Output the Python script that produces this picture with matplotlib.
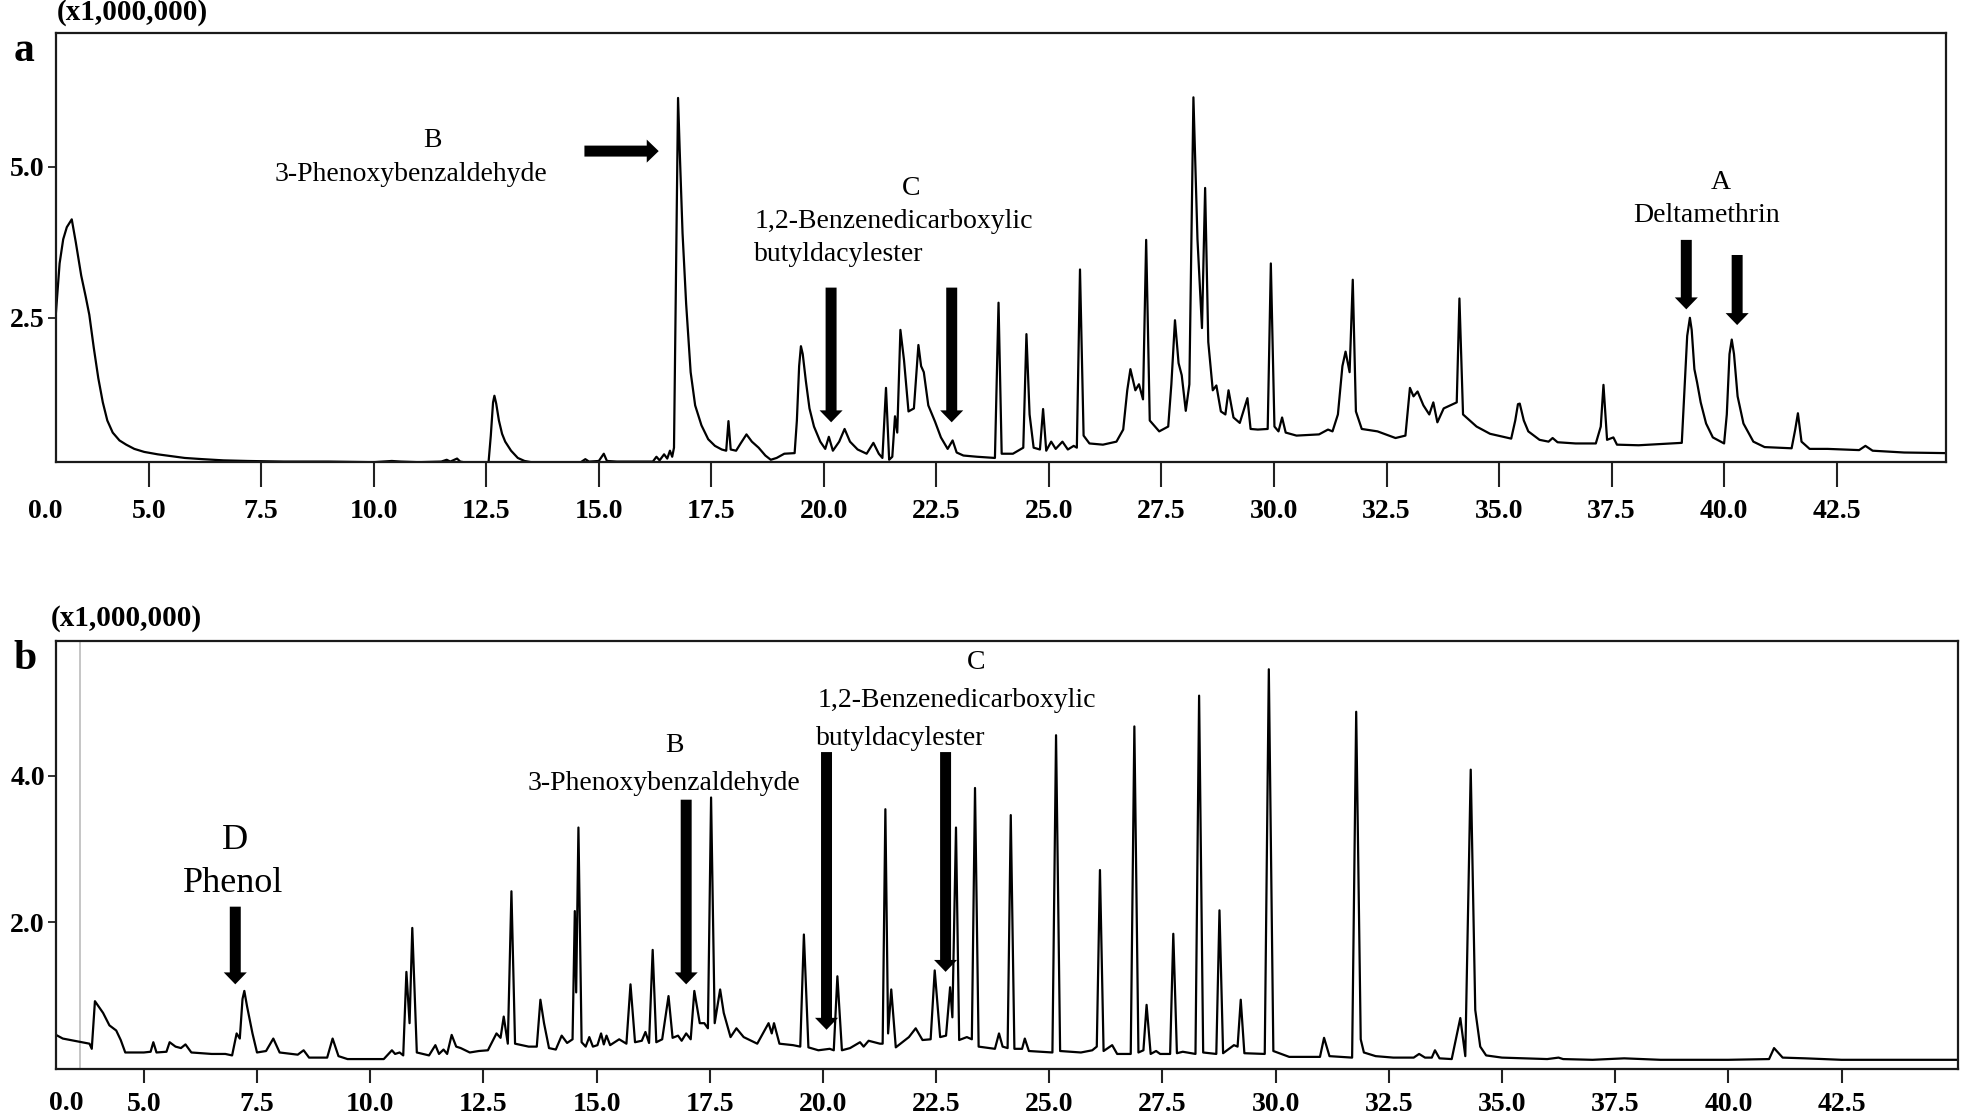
import matplotlib
matplotlib.use('Agg')
import numpy as np
import matplotlib.pyplot as plt

plt.rcParams['font.family'] = ['Liberation Serif', 'DejaVu Serif']

# retention time (min), intensity (x1,000,000)
trace_a = [
    (2.94, 2.60), (3.02, 3.40), (3.10, 3.80), (3.18, 4.00), (3.29, 4.13), (3.38, 3.75),
    (3.50, 3.20), (3.60, 2.85), (3.68, 2.55), (3.78, 2.00), (3.88, 1.50), (3.98, 1.10),
    (4.08, 0.80), (4.20, 0.60), (4.35, 0.47), (4.50, 0.40), (4.68, 0.33), (4.90, 0.28),
    (5.20, 0.24), (5.50, 0.21), (5.80, 0.18), (6.20, 0.16), (6.66, 0.14), (7.20, 0.13),
    (8.00, 0.12), (9.00, 0.12), (10.00, 0.11), (10.40, 0.13), (10.60, 0.12), (11.00, 0.11),
    (11.50, 0.12), (11.62, 0.15), (11.70, 0.12), (11.85, 0.17), (11.92, 0.12), (12.00, 0.11),
    (12.55, 0.11), (12.60, 0.55), (12.65, 1.10), (12.68, 1.21), (12.72, 1.08), (12.78, 0.80),
    (12.85, 0.58), (12.92, 0.45), (13.05, 0.30), (13.20, 0.18), (13.35, 0.13), (13.50, 0.11),
    (14.60, 0.11), (14.70, 0.16), (14.78, 0.12), (15.00, 0.13), (15.11, 0.25), (15.18, 0.13),
    (15.40, 0.12), (15.80, 0.12), (16.20, 0.12), (16.28, 0.20), (16.35, 0.14), (16.45, 0.24),
    (16.52, 0.17), (16.58, 0.30), (16.63, 0.20), (16.67, 0.35), (16.72, 3.60), (16.76, 6.14),
    (16.80, 5.20), (16.86, 3.90), (16.94, 2.73), (17.04, 1.60), (17.14, 1.05), (17.28, 0.72),
    (17.43, 0.49), (17.58, 0.38), (17.73, 0.32), (17.83, 0.30), (17.88, 0.79), (17.93, 0.32),
    (18.05, 0.30), (18.15, 0.42), (18.28, 0.57), (18.40, 0.45), (18.55, 0.35), (18.70, 0.22),
    (18.82, 0.15), (18.95, 0.18), (19.12, 0.25), (19.35, 0.26), (19.40, 0.80), (19.45, 1.70),
    (19.49, 2.03), (19.53, 1.90), (19.60, 1.45), (19.68, 1.00), (19.78, 0.70), (19.92, 0.45),
    (20.03, 0.33), (20.11, 0.53), (20.20, 0.30), (20.34, 0.45), (20.46, 0.66), (20.58, 0.45),
    (20.75, 0.32), (20.95, 0.25), (21.10, 0.43), (21.22, 0.25), (21.30, 0.18), (21.38, 1.34),
    (21.45, 0.15), (21.52, 0.20), (21.58, 0.87), (21.63, 0.60), (21.70, 2.30), (21.78, 1.80),
    (21.88, 0.95), (22.00, 1.00), (22.10, 2.05), (22.16, 1.70), (22.22, 1.60), (22.32, 1.05),
    (22.47, 0.78), (22.60, 0.52), (22.75, 0.33), (22.86, 0.47), (22.95, 0.27), (23.10, 0.22),
    (23.40, 0.20), (23.80, 0.18), (23.88, 2.75), (23.95, 0.25), (24.20, 0.25), (24.43, 0.35),
    (24.50, 2.23), (24.57, 0.90), (24.66, 0.35), (24.80, 0.32), (24.87, 0.99), (24.94, 0.30),
    (25.05, 0.45), (25.15, 0.33), (25.30, 0.45), (25.42, 0.32), (25.55, 0.38), (25.62, 0.35),
    (25.69, 3.30), (25.77, 0.55), (25.90, 0.42), (26.20, 0.40), (26.50, 0.45), (26.65, 0.65),
    (26.74, 1.30), (26.81, 1.65), (26.92, 1.30), (27.00, 1.40), (27.09, 1.15), (27.16, 3.79),
    (27.24, 0.80), (27.45, 0.62), (27.65, 0.70), (27.72, 1.40), (27.80, 2.46), (27.88, 1.75),
    (27.95, 1.55), (28.04, 0.96), (28.12, 1.40), (28.21, 6.15), (28.30, 3.80), (28.40, 2.33),
    (28.47, 4.65), (28.54, 2.10), (28.64, 1.30), (28.72, 1.38), (28.82, 0.95), (28.92, 0.90),
    (28.99, 1.30), (29.10, 0.85), (29.24, 0.76), (29.41, 1.17), (29.48, 0.66), (29.64, 0.65),
    (29.86, 0.66), (29.93, 3.40), (30.01, 0.70), (30.10, 0.62), (30.18, 0.85), (30.26, 0.60),
    (30.50, 0.55), (31.00, 0.57), (31.20, 0.65), (31.30, 0.62), (31.42, 0.90), (31.52, 1.70),
    (31.59, 1.94), (31.68, 1.60), (31.75, 3.13), (31.82, 0.95), (31.95, 0.66), (32.30, 0.62),
    (32.70, 0.51), (32.92, 0.55), (33.02, 1.34), (33.10, 1.20), (33.19, 1.28), (33.32, 1.05),
    (33.45, 0.90), (33.54, 1.10), (33.63, 0.77), (33.77, 1.00), (34.06, 1.10), (34.12, 2.82),
    (34.20, 0.90), (34.50, 0.70), (34.80, 0.58), (35.27, 0.50), (35.36, 0.80), (35.42, 1.07),
    (35.46, 1.08), (35.55, 0.80), (35.65, 0.62), (35.90, 0.48), (36.10, 0.45), (36.19, 0.51),
    (36.30, 0.44), (36.70, 0.42), (37.15, 0.42), (37.26, 0.70), (37.32, 1.39), (37.40, 0.48),
    (37.54, 0.52), (37.62, 0.40), (38.10, 0.39), (39.06, 0.43), (39.12, 1.30), (39.18, 2.20),
    (39.24, 2.50), (39.28, 2.30), (39.34, 1.65), (39.40, 1.43), (39.48, 1.10), (39.60, 0.75),
    (39.75, 0.52), (40.00, 0.42), (40.06, 0.90), (40.12, 1.90), (40.17, 2.14), (40.22, 1.90),
    (40.30, 1.20), (40.43, 0.75), (40.65, 0.45), (40.90, 0.36), (41.50, 0.34), (41.58, 0.65),
    (41.64, 0.92), (41.72, 0.45), (41.90, 0.33), (42.30, 0.33), (43.00, 0.31), (43.14, 0.38),
    (43.30, 0.30), (44.00, 0.27), (44.94, 0.26),
]

# retention time (min), intensity (x1,000,000)
trace_b = [
    (3.06, 0.46), (3.21, 0.41), (3.80, 0.34), (3.85, 0.27), (3.92, 0.92), (4.10, 0.76),
    (4.24, 0.59), (4.39, 0.52), (4.49, 0.39), (4.59, 0.22), (5.00, 0.22), (5.15, 0.23),
    (5.21, 0.36), (5.28, 0.22), (5.50, 0.23), (5.57, 0.36), (5.70, 0.30), (5.82, 0.28),
    (5.92, 0.33), (6.05, 0.22), (6.50, 0.20), (6.80, 0.20), (6.95, 0.18), (7.05, 0.48),
    (7.12, 0.41), (7.18, 0.95), (7.22, 1.06), (7.28, 0.85), (7.40, 0.48), (7.50, 0.22),
    (7.70, 0.24), (7.86, 0.41), (8.00, 0.22), (8.40, 0.19), (8.53, 0.25), (8.65, 0.15),
    (9.05, 0.15), (9.17, 0.41), (9.30, 0.17), (9.50, 0.13), (10.30, 0.13), (10.48, 0.25),
    (10.55, 0.20), (10.65, 0.22), (10.73, 0.18), (10.80, 1.32), (10.87, 0.62), (10.93, 1.92),
    (11.03, 0.22), (11.30, 0.18), (11.44, 0.32), (11.52, 0.20), (11.62, 0.26), (11.70, 0.20),
    (11.80, 0.46), (11.90, 0.30), (12.00, 0.28), (12.20, 0.22), (12.40, 0.24), (12.60, 0.25),
    (12.79, 0.48), (12.88, 0.42), (12.95, 0.71), (13.04, 0.34), (13.12, 2.42), (13.20, 0.34),
    (13.50, 0.30), (13.68, 0.30), (13.76, 0.94), (13.84, 0.62), (13.95, 0.28), (14.10, 0.26),
    (14.23, 0.45), (14.35, 0.35), (14.47, 0.40), (14.52, 2.15), (14.55, 1.04), (14.60, 3.29),
    (14.67, 0.36), (14.76, 0.30), (14.84, 0.43), (14.92, 0.30), (15.02, 0.32), (15.10, 0.48),
    (15.16, 0.33), (15.22, 0.45), (15.30, 0.32), (15.50, 0.40), (15.66, 0.34), (15.75, 1.15),
    (15.85, 0.36), (16.00, 0.38), (16.08, 0.50), (16.16, 0.35), (16.24, 1.62), (16.32, 0.36),
    (16.45, 0.40), (16.59, 0.99), (16.68, 0.42), (16.80, 0.45), (16.88, 0.38), (16.98, 0.48),
    (17.08, 0.40), (17.16, 1.06), (17.28, 0.62), (17.38, 0.62), (17.46, 0.55), (17.53, 3.70),
    (17.61, 0.62), (17.73, 1.08), (17.81, 0.76), (17.96, 0.43), (18.09, 0.55), (18.25, 0.43),
    (18.55, 0.34), (18.80, 0.62), (18.87, 0.48), (18.92, 0.62), (19.04, 0.34), (19.34, 0.32),
    (19.50, 0.30), (19.58, 1.83), (19.68, 0.29), (19.90, 0.25), (20.15, 0.27), (20.24, 0.25),
    (20.32, 1.26), (20.42, 0.25), (20.60, 0.28), (20.82, 0.36), (20.90, 0.30), (21.01, 0.38),
    (21.26, 0.34), (21.32, 0.34), (21.38, 3.54), (21.44, 0.48), (21.51, 1.08), (21.61, 0.29),
    (21.90, 0.43), (22.05, 0.55), (22.20, 0.39), (22.38, 0.40), (22.47, 1.34), (22.59, 0.43),
    (22.72, 0.45), (22.81, 1.11), (22.86, 0.70), (22.94, 3.29), (23.01, 0.39), (23.18, 0.43),
    (23.29, 0.40), (23.36, 3.83), (23.44, 0.30), (23.80, 0.27), (23.89, 0.48), (23.97, 0.30),
    (24.08, 0.28), (24.15, 3.46), (24.23, 0.27), (24.40, 0.27), (24.46, 0.41), (24.55, 0.24),
    (25.07, 0.22), (25.15, 4.55), (25.24, 0.24), (25.70, 0.22), (25.95, 0.25), (26.05, 0.30),
    (26.12, 2.71), (26.20, 0.24), (26.39, 0.32), (26.50, 0.20), (26.80, 0.20), (26.88, 4.67),
    (26.97, 0.22), (27.08, 0.25), (27.15, 0.87), (27.24, 0.20), (27.36, 0.24), (27.45, 0.20),
    (27.67, 0.20), (27.74, 1.84), (27.82, 0.21), (27.95, 0.23), (28.23, 0.20), (28.31, 5.09),
    (28.40, 0.22), (28.69, 0.20), (28.76, 2.16), (28.84, 0.21), (29.08, 0.32), (29.16, 0.30),
    (29.23, 0.94), (29.31, 0.21), (29.76, 0.20), (29.85, 5.45), (29.95, 0.24), (30.30, 0.16),
    (30.80, 0.16), (30.98, 0.16), (31.07, 0.42), (31.19, 0.17), (31.69, 0.15), (31.78, 4.87),
    (31.88, 0.40), (31.95, 0.22), (32.21, 0.17), (32.60, 0.15), (33.05, 0.15), (33.17, 0.20),
    (33.30, 0.15), (33.45, 0.15), (33.52, 0.25), (33.62, 0.14), (33.89, 0.13), (34.08, 0.69),
    (34.19, 0.17), (34.31, 4.08), (34.41, 0.80), (34.52, 0.30), (34.65, 0.18), (35.00, 0.15),
    (36.00, 0.13), (36.25, 0.15), (36.35, 0.13), (37.00, 0.12), (37.70, 0.14), (38.50, 0.12),
    (40.00, 0.12), (40.90, 0.13), (41.01, 0.28), (41.20, 0.15), (41.70, 0.14), (42.50, 0.12),
    (45.08, 0.12),
]

xticks = np.arange(5.0, 43.0, 2.5)
yticks_a = [2.5, 5.0]
yticks_b = [2.0, 4.0]

# (text, x, y, size, ha)
labels_a = [
    ('B', 11.30, 5.33, 20, 'center'),
    ('3-Phenoxybenzaldehyde', 10.83, 4.77, 20, 'center'),
    ('C', 21.94, 4.54, 20, 'center'),
    ('1,2-Benzenedicarboxylic', 18.45, 3.99, 20, 'left'),
    ('butyldacylester', 18.45, 3.44, 20, 'left'),
    ('A', 39.93, 4.64, 20, 'center'),
    ('Deltamethrin', 39.60, 4.09, 20, 'center'),
]
labels_b = [
    ('D', 7.02, 3.00, 26, 'center'),
    ('Phenol', 6.97, 2.41, 26, 'center'),
    ('B', 16.73, 4.32, 20, 'center'),
    ('3-Phenoxybenzaldehyde', 16.49, 3.80, 20, 'center'),
    ('C', 23.38, 5.45, 20, 'center'),
    ('1,2-Benzenedicarboxylic', 19.88, 4.93, 20, 'left'),
    ('butyldacylester', 19.85, 4.42, 20, 'left'),
]

# (tail x, tail y, tip x, tip y)
arrows_a = [
    (14.68, 5.26, 16.33, 5.26),
    (20.16, 3.00, 20.16, 0.77),
    (22.84, 3.00, 22.84, 0.77),
    (39.16, 3.79, 39.16, 2.64),
    (40.29, 3.54, 40.29, 2.38),
]
arrows_b = [
    (7.02, 2.21, 7.02, 1.15),
    (16.98, 3.67, 16.98, 1.15),
    (20.08, 4.32, 20.08, 0.53),
    (22.71, 4.32, 22.71, 1.32),
]

W, H = 1961, 1115


def px(x, y):
    return x / W, 1 - y / H


def panel(ax, trace, xlim, ylim, yticks, tick_len, tick_pad, labels, arrows):
    t, s = zip(*trace)
    ax.plot(t, s, color='black', lw=1.6, solid_joinstyle='round')
    ax.set_xlim(*xlim)
    ax.set_ylim(*ylim)
    ax.set_xticks(xticks)
    ax.set_xticklabels([f'{v:.1f}' for v in xticks], fontweight='bold')
    ax.set_yticks(yticks)
    ax.set_yticklabels([f'{v:.1f}' for v in yticks], fontweight='bold')
    ax.tick_params(axis='x', direction='out', length=tick_len, width=1.5,
                   pad=tick_pad, labelsize=20, color='#222222')
    ax.tick_params(axis='y', direction='out', length=6, width=1.3,
                   pad=2, labelsize=20, color='#222222')
    for sp in ax.spines.values():
        sp.set_linewidth(1.6)
        sp.set_color('#1a1a1a')
    for text, x, y, size, ha in labels:
        ax.text(x, y, text, fontsize=size, ha=ha, va='baseline')
    for x0, y0, x1, y1 in arrows:
        ax.annotate('', xy=(x1, y1), xytext=(x0, y0),
                    arrowprops=dict(arrowstyle='simple,head_length=8.6,head_width=16.6,tail_width=7.9',
                                    mutation_scale=1, color='black', lw=0,
                                    shrinkA=0, shrinkB=0))


fig = plt.figure(figsize=(W / 100, H / 100), dpi=100)

l, b = px(56, 462)
ax_a = fig.add_axes([l, b, (1946 - 56) / W, (462 - 33) / H])
panel(ax_a, trace_a, (2.94, 44.93), (0.113, 7.215), yticks_a, 18, 8.5, labels_a, arrows_a)

l, b = px(56, 1068.6)
ax_b = fig.add_axes([l, b, (1958.3 - 56) / W, (1068.6 - 640.7) / H])
panel(ax_b, trace_b, (3.06, 45.08), (0.0, 5.84), yticks_b, 10, 6.5, labels_b, arrows_b)
ax_b.axvline(3.59, color='#b5b5b5', lw=1.1, zorder=0)

# y zero labels sit at the corner, level with the time labels
fig.text(*px(45.5, 511), '0.0', fontsize=20, fontweight='bold', ha='center', va='center')
fig.text(*px(66, 1103), '0.0', fontsize=20, fontweight='bold', ha='center', va='center')

fig.text(*px(132.5, 13), '(x1,000,000)', fontsize=21, fontweight='bold', ha='center', va='center')
fig.text(*px(126, 619), '(x1,000,000)', fontsize=21, fontweight='bold', ha='center', va='center')
fig.text(*px(24.5, 60.8), 'a', fontsize=30, fontweight='bold', ha='center', va='baseline')
fig.text(*px(25.4, 668.7), 'b', fontsize=30, fontweight='bold', ha='center', va='baseline')

fig.savefig('out.png', dpi=100)
